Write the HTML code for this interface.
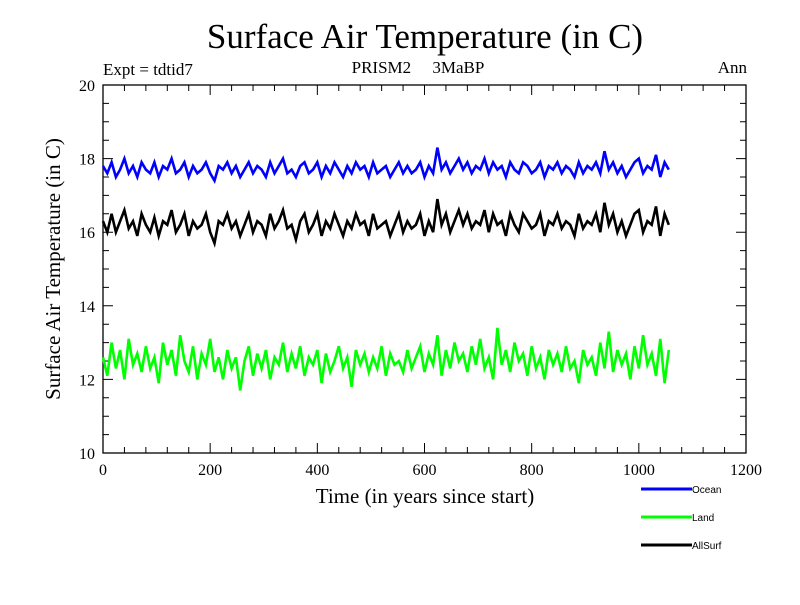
<!DOCTYPE html>
<html><head><meta charset="utf-8"><style>
body{margin:0;background:#fff}
svg text{font-family:"Liberation Serif",serif}
</style></head><body>
<svg id="chart" width="800" height="600" xmlns="http://www.w3.org/2000/svg">
<text x="425" y="48" font-size="35" text-anchor="middle">Surface Air Temperature (in C)</text>
<text x="103" y="75" font-size="17">Expt = tdtid7</text>
<text x="418" y="73" font-size="17" text-anchor="middle" style="white-space:pre">PRISM2     3MaBP</text>
<text x="747" y="73" font-size="17" text-anchor="end">Ann</text>
<text transform="translate(60,269) rotate(-90)" font-size="21" text-anchor="middle">Surface Air Temperature (in C)</text>
<text x="425" y="503" font-size="21" text-anchor="middle">Time (in years since start)</text>
<g id="axes"></g>
<g id="series"></g>
<g id="legend"></g>
</svg>
<script>
const xTicks=[0,200,400,600,800,1000,1200];
const yTicks=[10,12,14,16,18,20];
const seriesNames=["Ocean","Land","AllSurf"];
const seriesColors=["#0000ff","#00ff00","#000000"];
const yearStep=8;
const ocean=[17.8,17.6,17.9,17.5,17.7,18.0,17.6,17.8,17.5,17.9,17.7,17.6,17.9,17.5,17.8,17.7,18.0,17.6,17.7,17.9,17.5,17.8,17.6,17.7,17.9,17.6,17.4,17.8,17.7,17.9,17.6,17.8,17.5,17.7,17.9,17.6,17.8,17.7,17.5,17.9,17.6,17.8,18.0,17.6,17.7,17.5,17.8,17.9,17.6,17.7,17.9,17.5,17.8,17.6,17.9,17.7,17.5,17.8,17.6,17.9,17.7,17.8,17.5,17.9,17.6,17.7,17.8,17.5,17.7,17.9,17.6,17.8,17.6,17.7,17.9,17.5,17.8,17.6,18.3,17.7,17.9,17.6,17.8,18.0,17.7,17.9,17.6,17.8,17.7,18.0,17.6,17.9,17.7,17.8,17.5,17.9,17.7,17.6,17.9,17.8,17.6,17.7,17.9,17.5,17.8,17.7,17.9,17.6,17.8,17.7,17.5,17.9,17.6,17.8,17.7,17.9,17.6,18.2,17.7,17.9,17.6,17.8,17.5,17.7,17.9,18.0,17.6,17.8,17.7,18.1,17.5,17.9,17.7];
const land=[12.6,12.1,13.0,12.3,12.8,12.0,13.1,12.4,12.7,12.2,12.9,12.3,12.6,11.9,13.0,12.4,12.8,12.1,13.2,12.5,12.2,12.9,12.0,12.7,12.4,13.1,12.2,12.6,12.0,12.8,12.3,12.6,11.7,12.5,12.9,12.1,12.7,12.3,12.8,12.0,12.6,12.4,13.0,12.2,12.7,12.3,12.9,12.1,12.6,12.4,12.8,11.9,12.7,12.2,12.5,12.9,12.3,12.6,11.8,12.8,12.4,12.7,12.2,12.6,12.3,12.9,12.1,12.7,12.4,12.5,12.2,12.8,12.3,12.6,12.9,12.2,12.7,12.4,13.2,12.1,12.8,12.3,13.0,12.5,12.7,12.2,12.9,12.4,13.1,12.3,12.6,12.0,13.4,12.4,12.8,12.2,13.0,12.5,12.7,12.1,12.9,12.3,12.6,12.0,12.8,12.4,12.7,12.2,12.9,12.3,12.5,11.9,12.8,12.4,12.6,12.1,13.0,12.3,13.3,12.2,12.8,12.4,12.7,12.0,12.9,12.3,13.2,12.4,12.7,12.1,13.1,11.9,12.8];
const allSurf=[16.3,16.0,16.5,16.0,16.3,16.6,16.1,16.3,15.9,16.5,16.2,16.0,16.4,15.9,16.3,16.2,16.6,16.0,16.2,16.5,15.9,16.3,16.1,16.2,16.5,16.0,15.7,16.3,16.2,16.5,16.1,16.3,15.9,16.2,16.5,16.0,16.3,16.2,15.9,16.5,16.1,16.3,16.6,16.1,16.2,15.8,16.3,16.5,16.0,16.2,16.5,15.9,16.3,16.1,16.5,16.2,15.9,16.3,16.1,16.5,16.2,16.3,15.9,16.5,16.1,16.2,16.3,15.9,16.2,16.5,16.0,16.3,16.1,16.2,16.5,15.9,16.3,16.0,16.9,16.2,16.5,16.0,16.3,16.6,16.2,16.5,16.1,16.3,16.2,16.6,16.0,16.5,16.2,16.3,15.9,16.5,16.2,16.0,16.5,16.3,16.1,16.2,16.5,15.9,16.3,16.2,16.5,16.1,16.3,16.2,15.9,16.5,16.1,16.3,16.2,16.5,16.0,16.8,16.2,16.5,16.0,16.3,15.9,16.2,16.5,16.6,16.0,16.3,16.2,16.7,15.9,16.5,16.2];
const seriesData=[ocean,land,allSurf];
const X0=103,X1=746,Y0=453,Y1=85;
const xs=v=>X0+(v-0)/(1200-0)*(X1-X0);
const ys=v=>Y0-(v-10)/(20-10)*(Y0-Y1);
const NS="http://www.w3.org/2000/svg";
function mk(tag,attrs,parent){const e=document.createElementNS(NS,tag);for(const k in attrs)e.setAttribute(k,attrs[k]);parent.appendChild(e);return e;}
const axes=document.getElementById('axes');
const frame=mk('rect',{x:X0,y:Y1,width:X1-X0,height:Y0-Y1,fill:'none',stroke:'#000','stroke-width':1.3},axes);


for(let v=0;v<=1200;v+=40){const major=v%200===0;const L=major?10:6;
 const t=mk('path',{d:`M${xs(v)},${Y0}v${-L}M${xs(v)},${Y1}v${L}`,stroke:'#000','stroke-width':1},axes);
 
 }
for(let v=10;v<=20;v+=0.5){const major=Math.abs(v%2)<1e-9;const L=major?10:6;
 const t=mk('path',{d:`M${X0},${ys(v)}h${L}M${X1},${ys(v)}h${-L}`,stroke:'#000','stroke-width':1},axes);
 
 }
xTicks.forEach(v=>{const t=mk('text',{x:xs(v),y:Y0+22,'font-size':16,'text-anchor':'middle'},axes);t.textContent=v;
 
 });
yTicks.forEach(v=>{const t=mk('text',{x:X0-8,y:ys(v)+6,'font-size':16,'text-anchor':'end'},axes);t.textContent=v;
 
 });
const sg=document.getElementById('series');
seriesData.forEach((arr,si)=>{
 const d=arr.map((v,i)=>(i?'L':'M')+xs(i*yearStep).toFixed(1)+','+ys(v).toFixed(1)).join('');
 const p=mk('path',{d:d,fill:'none',stroke:seriesColors[si],'stroke-width':2.6,'stroke-linejoin':'miter'},sg);
 
 
});
const lg=document.getElementById('legend');
seriesNames.forEach((n,i)=>{const y=489+i*28;
 const g=mk('g',{},lg);
 
 
 mk('line',{x1:641,x2:692,y1:y,y2:y,stroke:seriesColors[i],'stroke-width':3},g);
 const t=mk('text',{x:692,y:y+4,'font-size':10,style:'font-family:"Liberation Sans",sans-serif'},g);t.textContent=n;});
</script>
</body></html>
